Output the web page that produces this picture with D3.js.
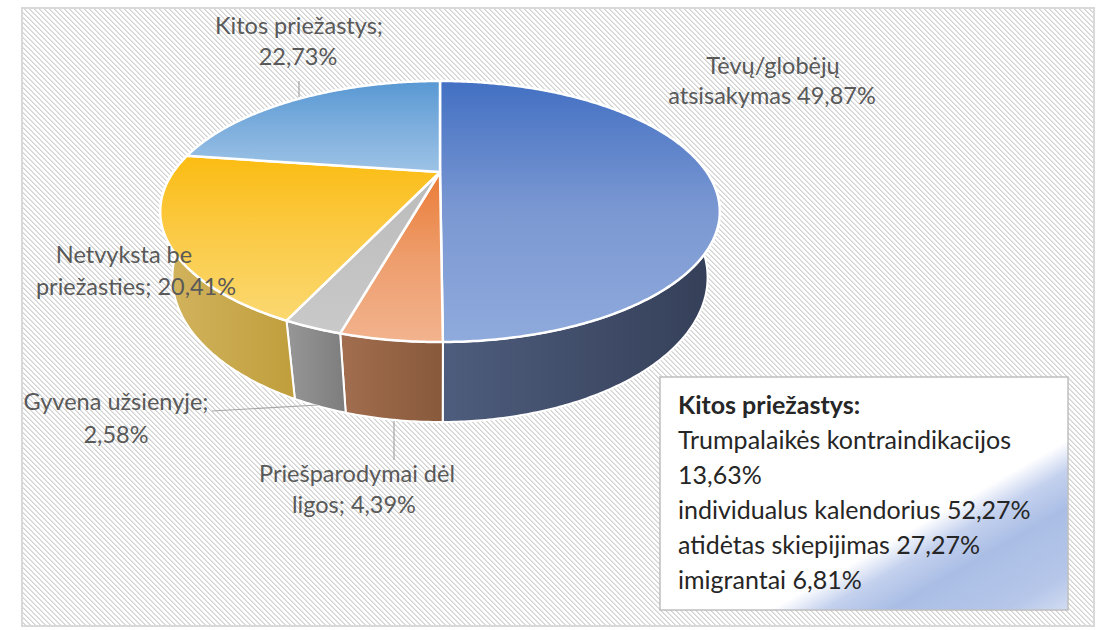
<!DOCTYPE html>
<html><head><meta charset="utf-8">
<script src="https://cdn.jsdelivr.net/npm/d3@7"></script>
<style>
body{margin:0;background:#fff}
svg{display:block}
text{font-family: Lato, "Liberation Sans", sans-serif;}
</style>
</head><body>
<svg id="chart" width="1099" height="630"></svg>
<script>
// ---------- data ----------
const categories = ["Tėvų/globėjų atsisakymas", "Priešparodymai dėl ligos", "Gyvena užsienyje", "Netvyksta be priežasties", "Kitos priežastys"];
const values = [49.87, 4.39, 2.58, 20.41, 22.73];
const labelFirstLines = ["Tėvų/globėjų", "Priešparodymai dėl", "Gyvena užsienyje;", "Netvyksta be", "Kitos priežastys;"];
const labelSecondPrefix = ["atsisakymas ", "ligos; ", "", "priežasties; ", ""];
const noteTitle = "Kitos priežastys:";
const noteLines = ["Trumpalaikės kontraindikacijos", "13,63%", "individualus kalendorius 52,27%", "atidėtas skiepijimas 27,27%", "imigrantai 6,81%"];

// ---------- styles ----------
const topColors = [["#4370C3", "#7B98D2", "#8FAADC"], ["#EA7B36", "#EE9D6C", "#F2B38E"], ["#BBBBBB", "#C2C2C2", "#C9C9C9"], ["#FBBC12", "#FBCB48", "#FAD870"], ["#5898D3", "#7DAEDD", "#9DC3E6"]];
const sideColors = [["#4E5D7D", "#343E57"], ["#A26E4F", "#88593B"], ["#979797", "#7D7D7D"], ["#D3B560", "#C09E3C"], ["#6F93BF", "#5078A8"]];
const labelLayout = [
  {x1: 773, x2: 772, y: 74, dy: 30},
  {x1: 357, x2: 354, y: 482, dy: 31},
  {x1: 116, x2: 116, y: 410, dy: 33},
  {x1: 124, x2: 136, y: 263, dy: 32},
  {x1: 299, x2: 298, y: 34, dy: 31}
];
const leaders = [null, [[394, 421], [394, 460]], [[212, 411], [318, 405]], null, [[299, 81], [299, 97]]];

const fmt = v => d3.format(".2f")(v).replace(".", ",") + "%";

const svg = d3.select("#chart");
const defs = svg.append("defs");

// hatch pattern (pixel-aligned downward diagonal)
const P = 5;
const pat = defs.append("pattern").attr("id", "hatch").attr("patternUnits", "userSpaceOnUse")
  .attr("x", 0).attr("y", 0).attr("width", P).attr("height", P);
pat.append("rect").attr("width", P).attr("height", P).attr("fill", "#ffffff");
for (let i = 0; i < P; i++) {
  pat.append("rect").attr("x", i).attr("y", i).attr("width", 1).attr("height", 1).attr("fill", "#D3D3D3").attr("shape-rendering", "crispEdges");
  pat.append("rect").attr("x", (i + 1) % P).attr("y", i).attr("width", 1).attr("height", 1).attr("fill", "#E2E2E2").attr("shape-rendering", "crispEdges");
}

// frame
svg.append("rect").attr("x", 22).attr("y", 8).attr("width", 1072).attr("height", 618)
  .attr("fill", "url(#hatch)").attr("stroke", "#D9D9D9").attr("stroke-width", 2);

// gradients
topColors.forEach((c, i) => {
  const g = defs.append("linearGradient").attr("id", "top" + i).attr("x1", 0).attr("y1", 0).attr("x2", 0).attr("y2", 1);
  c.forEach((col, j) => g.append("stop").attr("offset", j / (c.length - 1)).attr("stop-color", col));
});
sideColors.forEach((c, i) => {
  const g = defs.append("linearGradient").attr("id", "side" + i).attr("x1", 0).attr("y1", 0).attr("x2", 1).attr("y2", 0);
  c.forEach((col, j) => g.append("stop").attr("offset", j / (c.length - 1)).attr("stop-color", col));
});

// ---------- 3D perspective projection ----------
const phi = 26.4 * Math.PI / 180, Dist = 2.96, Foc = 789.4, CX = 440, CY = 172, Hgt = 0.277;
function proj(a, Y) {
  const X = Math.sin(a), Z = -Math.cos(a);
  const up = Y * Math.cos(phi) - Z * Math.sin(phi);
  const depth = Y * Math.sin(phi) + Z * Math.cos(phi);
  const w = Dist - depth;
  return [CX + Foc * X / w, CY - Foc * up / w];
}
function arcPts(a0, a1, Y) {
  const n = Math.max(2, Math.ceil((a1 - a0) / 0.01));
  const pts = [];
  for (let i = 0; i <= n; i++) pts.push(proj(a0 + (a1 - a0) * i / n, Y));
  return pts;
}
const line = d3.line();

const pie = d3.pie().sort(null).value(d => d).startAngle(0).endAngle(2 * Math.PI);
const arcs = pie(values);

const gSides = svg.append("g");
const gTops = svg.append("g");

arcs.forEach((d, i) => {
  const s0 = Math.max(d.startAngle, Math.PI / 2), s1 = Math.min(d.endAngle, 3 * Math.PI / 2);
  if (s1 > s0) {
    const top = arcPts(s0, s1, 0), bot = arcPts(s0, s1, -Hgt).reverse();
    gSides.append("path").attr("d", line(top.concat(bot)) + "Z")
      .attr("fill", `url(#side${i})`).attr("stroke", "#ffffff").attr("stroke-width", 2).attr("stroke-linejoin", "round");
  }
});
arcs.forEach((d, i) => {
  const a = arcPts(d.startAngle, d.endAngle, 0);
  gTops.append("path").attr("d", line([[CX, CY]].concat(a)) + "Z")
    .attr("fill", `url(#top${i})`).attr("stroke", "#ffffff").attr("stroke-width", 2.5).attr("stroke-linejoin", "round");
});

// leader lines
leaders.forEach(l => {
  if (!l) return;
  svg.append("path").attr("d", line(l)).attr("stroke", "#A6A6A6").attr("stroke-width", 1.2).attr("fill", "none");
});

// labels
categories.forEach((c, i) => {
  const L = labelLayout[i];
  const t = svg.append("text").attr("text-anchor", "middle").attr("fill", "#595959").attr("font-size", 23.5);
  t.append("tspan").attr("x", L.x1).attr("y", L.y).text(labelFirstLines[i]);
  t.append("tspan").attr("x", L.x2).attr("y", L.y + L.dy).text(labelSecondPrefix[i] + fmt(values[i]));
});

// note box
const ng = defs.append("linearGradient").attr("id", "noteGrad").attr("x1", 0).attr("y1", 0).attr("x2", 1).attr("y2", 1);
[[0, "#ffffff"], [0.635, "#ffffff"], [0.70, "#C4D1EE"], [0.78, "#AABEE5"], [0.92, "#B5C6E9"], [1, "#D2DCF2"]]
  .forEach(s => ng.append("stop").attr("offset", s[0]).attr("stop-color", s[1]));
svg.append("rect").attr("x", 660).attr("y", 377).attr("width", 408).attr("height", 233)
  .attr("fill", "url(#noteGrad)").attr("stroke", "#BFBFBF").attr("stroke-width", 1.5);
const nt = svg.append("text").attr("fill", "#262626").attr("font-size", 25);
nt.append("tspan").attr("x", 678).attr("y", 414).attr("font-weight", "bold").text(noteTitle);
noteLines.forEach((s, i) => nt.append("tspan").attr("x", 678).attr("y", 449 + i * 35).text(s));
</script>
</body></html>
